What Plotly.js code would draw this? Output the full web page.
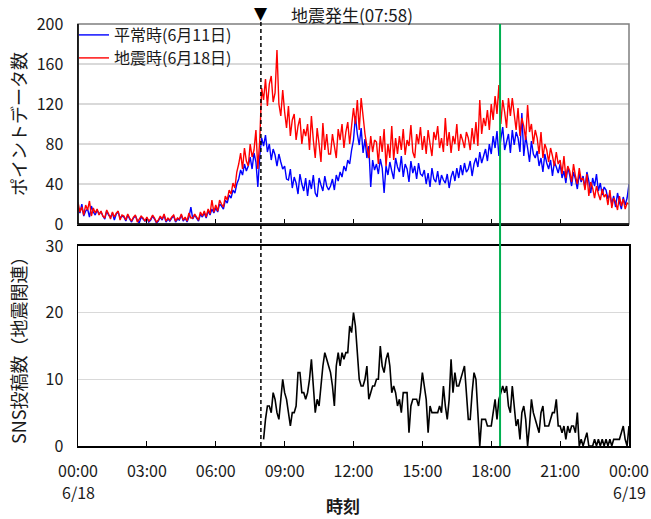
<!DOCTYPE html>
<html>
<head>
<meta charset="utf-8">
<script src="https://cdn.plot.ly/plotly-3.0.1.min.js"></script>
<style>
html, body { margin: 0; padding: 0; background: #fff; }
#chart { width: 651px; height: 519px; }
</style>
</head>
<body>
<div id="chart"></div>
<script>
// ---- data (5-minute samples, 00:00 -> 24:00) ----
const normalLabel = "平常時(6月11日)";
const quakeLabel = "地震時(6月18日)";

const normalCounts = [
  17, 11, 20, 8, 13, 15, 7, 18, 12, 9, 14, 10,
  12, 8, 5, 13, 9, 7, 11, 4, 10, 12, 6, 8,
  7, 3, 9, 5, 2, 6, 8, 4, 1, 7, 5, 3,
  6, 2, 4, 8, 5, 1, 3, 7, 4, 9, 2, 5,
  3, 6, 8, 2, 5, 4, 9, 3, 6, 2, 7, 17,
  5, 9, 6, 3, 10, 7, 11, 6, 13, 9, 15, 11,
  16, 12, 20, 18, 15, 24, 21, 29, 26, 34, 31, 40,
  45, 54, 49, 60, 53, 58, 67, 55, 71, 62, 37, 68,
  86, 78, 89, 72, 80, 64, 75, 69, 58, 70, 62, 55,
  58, 45, 44, 55, 36, 47, 41, 30, 50, 40, 33, 46,
  28, 44, 35, 49, 31, 27, 46, 39, 33, 48, 38, 34,
  38, 45, 34, 49, 43, 52, 47, 58, 53, 64, 60, 74,
  84, 108, 90, 79, 96, 71, 85, 66, 78, 37, 64, 54,
  60, 50, 65, 56, 31, 58, 49, 62, 53, 45, 66, 57,
  52, 68, 47, 60, 55, 42, 63, 51, 58, 45, 61, 50,
  48, 54, 40, 51, 37, 56, 45, 42, 53, 39, 49, 44,
  41, 50, 36, 47, 53, 43, 56, 46, 59, 49, 61, 52,
  55, 63, 48, 60, 66, 57, 72, 61, 68, 75, 63, 80,
  70, 88, 76, 93, 68, 85, 97, 74, 82, 90, 71, 94,
  79, 92, 86, 72, 111, 68, 88, 76, 62, 83, 70, 66,
  73, 58, 66, 52, 70, 61, 55, 64, 48, 62, 57, 51,
  60, 46, 53, 41, 57, 49, 38, 52, 45, 35, 50, 42,
  48, 36, 52, 43, 31, 46, 38, 50, 33, 41, 29, 37,
  34, 25, 30, 20, 28, 17, 31, 22, 15, 27, 19, 26,
  40
];

const quakeCounts = [
  22, 12, 17, 9, 19, 14, 23, 8, 16, 11, 15, 9,
  13, 8, 6, 14, 10, 5, 12, 7, 11, 13, 4, 9,
  8, 4, 10, 6, 3, 7, 9, 2, 5, 8, 6, 3,
  7, 3, 5, 9, 6, 2, 4, 8, 5, 10, 3, 6,
  4, 7, 9, 3, 6, 5, 10, 4, 7, 3, 11, 6,
  6, 10, 7, 4, 12, 8, 13, 7, 15, 10, 24, 12,
  19, 13, 24, 20, 17, 28, 24, 34, 30, 41, 36, 52,
  60, 71, 55, 76, 63, 58, 80, 67, 74, 94, 55, 84,
  136, 124, 145, 118, 140, 148, 122, 131, 174, 120, 108, 134,
  112, 96, 118, 88, 104, 110, 84, 98, 106, 80, 95, 88,
  100, 74, 108, 84, 66, 96, 80, 62, 101, 74, 90, 70,
  70, 90, 78, 66, 95, 84, 100, 76, 92, 102, 80, 98,
  116, 100, 124, 94, 126, 108, 90, 78, 66, 88, 72, 84,
  82, 60, 88, 72, 95, 58, 80, 66, 98, 64, 86, 70,
  88, 74, 95, 69, 84, 78, 99, 72, 66, 90, 80, 97,
  74, 88, 70, 94, 80, 68, 92, 84, 98, 76, 86, 72,
  106, 78, 92, 71, 88, 80, 100, 73, 90, 84, 76, 92,
  86, 74, 96, 80, 102, 78, 124, 90, 106, 98, 114, 94,
  120, 104, 128, 110, 139, 100, 124, 112, 96, 126, 108, 126,
  110, 94, 116, 88, 106, 98, 84, 119, 92, 100, 80, 94,
  86, 70, 92, 66, 80, 74, 62, 76, 68, 58, 72, 60,
  64, 50, 68, 46, 58, 53, 42, 60, 48, 40, 56, 44,
  46, 34, 50, 28, 42, 36, 26, 38, 30, 24, 35, 27,
  30, 19, 34, 16, 26, 22, 14, 28, 18, 25, 15, 21,
  20
];

// SNS posts (earthquake related), 5-minute bins from 08:05 to 24:00
const snsStartMinutes = 8 * 60 + 5;
const snsPosts = [
  1, 4, 6, 6, 5, 8, 7, 5, 4, 7, 10, 8,
  7, 5, 3, 5, 5, 6, 11, 11, 8, 8, 7, 8,
  10, 13, 9, 5, 7, 6, 9, 12, 14, 13, 12, 11,
  9, 6, 12, 14, 12, 14, 13, 14, 14, 18, 17, 20,
  18, 14, 10, 9, 9, 10, 12, 7, 8, 9, 9, 10,
  10, 15, 12, 11, 13, 14, 12, 8, 9, 8, 6, 7,
  5, 8, 8, 8, 2, 6, 7, 7, 7, 6, 8, 11,
  9, 7, 2, 6, 5, 5, 5, 5, 6, 5, 9, 6,
  4, 7, 13, 8, 11, 9, 9, 10, 11, 12, 8, 4,
  4, 8, 11, 10, 5, 0, 4, 4, 4, 3, 3, 3,
  5, 7, 4, 7, 8, 9, 8, 9, 6, 5, 9, 6,
  3, 4, 1, 5, 6, 4, 0, 3, 7, 5, 4, 3,
  2, 5, 6, 3, 3, 3, 4, 5, 5, 7, 3, 3,
  2, 3, 1, 3, 2, 3, 3, 2, 5, 0, 1, 0,
  1, 2, 0, 0, 0, 1, 0, 1, 0, 1, 0, 1,
  0, 1, 0, 1, 1, 1, 1, 2, 3, 1, 0, 3
];

const tickHours = [0, 3, 6, 9, 12, 15, 18, 21, 24];
const tickLabels = ["00:00", "03:00", "06:00", "09:00", "12:00", "15:00", "18:00", "21:00", "00:00"];
const dateLabels = ["6/18", "6/19"];
const topTicks = [0, 40, 80, 120, 160, 200];
const bottomTicks = [0, 10, 20, 30];

const quakeTime = 7 + 58 / 60;      // 07:58
const markerTime = 18 + 23 / 60;    // green reference line
const quakeText = "地震発生(07:58)";
const topTitle = "ポイントデータ数";
const bottomTitle = "SNS投稿数（地震関連）";
const xTitle = "時刻";

// ---- build ----
const stepH = 5 / 60;
const xTop = normalCounts.map((_, i) => i * stepH);
const xSns = snsPosts.map((_, i) => (snsStartMinutes + i * 5) / 60);

const font = "'Noto Sans CJK JP', 'Noto Sans', sans-serif";
const txt = "#1a1a1a";

const traces = [
  { x: xTop, y: normalCounts, type: "scatter", mode: "lines", name: normalLabel,
    line: { color: "#0000ff", width: 1.4, simplify: false }, xaxis: "x", yaxis: "y", legend: "legend" },
  { x: xTop, y: quakeCounts, type: "scatter", mode: "lines", name: quakeLabel,
    line: { color: "#ff0000", width: 1.4, simplify: false }, xaxis: "x", yaxis: "y", legend: "legend2" },
  { x: xSns, y: snsPosts, type: "scatter", mode: "lines", showlegend: false,
    line: { color: "#000000", width: 1.6, simplify: false }, xaxis: "x2", yaxis: "y2" }
];

const PH = 422;          // plot-area height in px (519 - 24 - 73)
const PW = 551;          // plot-area width
const topBottom = 0.526, botTop = 0.474;
const py = (px) => 1 - (px - 24) / PH;       // pixel row -> paper y
const pxX = (px) => (px - 78) / PW;          // pixel col -> paper x

const legendStyle = (yy) => ({
  x: pxX(74), xanchor: "left", y: py(yy), yanchor: "middle",
  bgcolor: "rgba(0,0,0,0)", borderwidth: 0,
  font: { family: font, size: 16, color: txt }
});

const layout = {
  width: 651, height: 519,
  margin: { l: 78, r: 22, t: 24, b: 73 },
  paper_bgcolor: "#fff", plot_bgcolor: "#fff",
  font: { family: font, size: 16, color: txt },
  showlegend: true,
  legend: legendStyle(35),
  legend2: legendStyle(58),
  xaxis: {
    domain: [0, 1], anchor: "y", range: [0, 24],
    tickmode: "array", tickvals: tickHours, showticklabels: false,
    ticks: "inside", ticklen: 5, tickwidth: 1.2, tickcolor: "#000",
    showline: true, linecolor: "#000", linewidth: 1.5,
    showgrid: false, zeroline: false
  },
  yaxis: {
    domain: [topBottom, 1], anchor: "x", range: [0, 200],
    tickmode: "array", tickvals: topTicks, ticks: "", ticklabelstandoff: 10,
    showline: true, linecolor: "#000", linewidth: 1.5,
    showgrid: true, gridcolor: "#d9d9d9", gridwidth: 1.5, zeroline: false
  },
  xaxis2: {
    domain: [0, 1], anchor: "y2", range: [0, 24],
    tickmode: "array", tickvals: tickHours, ticktext: tickLabels,
    ticks: "inside", ticklen: 5, tickwidth: 1.2, tickcolor: "#000",
    ticklabelstandoff: 10,
    showline: true, mirror: true, linecolor: "#000", linewidth: 1.5,
    showgrid: false, zeroline: false
  },
  yaxis2: {
    domain: [0, botTop], anchor: "x2", range: [0, 30],
    tickmode: "array", tickvals: bottomTicks, ticks: "", ticklabelstandoff: 10,
    showline: true, mirror: true, linecolor: "#000", linewidth: 1.5,
    showgrid: true, gridcolor: "#d9d9d9", gridwidth: 1.5, zeroline: false
  },
  shapes: [
    { type: "rect", xref: "paper", yref: "paper", x0: 0, x1: 1, y0: topBottom, y1: 1,
      line: { color: "#7f7f7f", width: 1.5 }, layer: "above" },
    { type: "line", xref: "paper", yref: "paper", x0: 0, x1: 0, y0: topBottom, y1: 1,
      line: { color: "#000", width: 1.5 }, layer: "above" },
    { type: "line", xref: "paper", yref: "paper", x0: 0, x1: 1, y0: topBottom, y1: topBottom,
      line: { color: "#000", width: 1.5 }, layer: "above" },
    { type: "line", xref: "x", yref: "paper", x0: quakeTime, x1: quakeTime, y0: 0, y1: py(21),
      line: { color: "#000", width: 1.5, dash: "4px,3px" }, layer: "above" },
    { type: "line", xref: "x", yref: "paper", x0: markerTime, x1: markerTime, y0: 0, y1: 1,
      line: { color: "#00b050", width: 2 }, layer: "above" }
  ],
  annotations: [
    { xref: "x", yref: "paper", x: quakeTime, y: py(13), text: "▼",
      showarrow: false, xanchor: "center", yanchor: "middle",
      font: { family: "'DejaVu Sans', sans-serif", size: 17, color: "#000" } },
    { xref: "paper", yref: "paper", x: pxX(289), y: py(14), text: quakeText,
      showarrow: false, xanchor: "left", yanchor: "middle",
      font: { family: font, size: 17, color: txt } },
    { xref: "paper", yref: "paper", x: pxX(343), y: py(505), text: "<b>" + xTitle + "</b>",
      showarrow: false, xanchor: "center", yanchor: "middle",
      font: { family: font, size: 17, color: txt } },
    { xref: "paper", yref: "paper", x: pxX(18), y: py(124), text: topTitle, textangle: -90,
      showarrow: false, xanchor: "center", yanchor: "middle",
      font: { family: font, size: 18, color: txt } },
    { xref: "paper", yref: "paper", x: pxX(18), y: py(346), text: bottomTitle, textangle: -90,
      showarrow: false, xanchor: "center", yanchor: "middle",
      font: { family: font, size: 18, color: txt } },
    { xref: "x2", yref: "paper", x: tickHours[0], y: py(492), text: dateLabels[0],
      showarrow: false, xanchor: "center", yanchor: "middle",
      font: { family: font, size: 16, color: txt } },
    { xref: "x2", yref: "paper", x: tickHours[tickHours.length - 1], y: py(492), text: dateLabels[1],
      showarrow: false, xanchor: "center", yanchor: "middle",
      font: { family: font, size: 16, color: txt } }
  ]
};

Plotly.newPlot("chart", traces, layout, { displayModeBar: false, staticPlot: true });
</script>
</body>
</html>
